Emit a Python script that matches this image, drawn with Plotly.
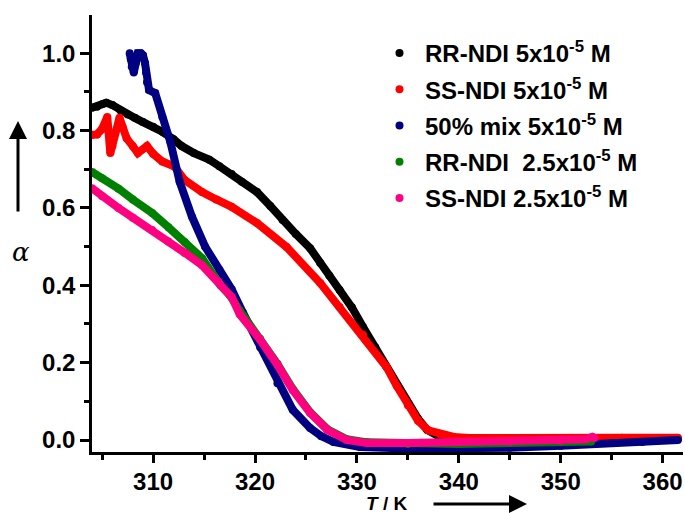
import plotly.graph_objects as go

# ---------------- data ----------------
rr5_T = [304.0, 304.5, 305.0, 305.4, 306.0, 306.8, 307.5, 308.2, 309.0, 310.0, 310.9, 312.0,
         312.8, 314.0, 315.5, 316.5, 317.7, 318.7, 320.2, 321.5, 322.7, 324.0, 325.4, 326.4,
         327.3, 328.3, 329.5, 330.6, 331.8, 332.9, 334.0, 335.0, 336.0, 336.9, 338.0, 339.5,
         341.0, 345.0, 350.0, 355.0, 358.0, 361.5]
rr5_a = [0.859, 0.862, 0.868, 0.872, 0.866, 0.852, 0.842, 0.833, 0.822, 0.810, 0.797, 0.778,
         0.760, 0.742, 0.725, 0.708, 0.688, 0.668, 0.641, 0.605, 0.569, 0.533, 0.496, 0.458,
         0.425, 0.388, 0.343, 0.292, 0.240, 0.189, 0.140, 0.095, 0.055, 0.026, 0.010, 0.002,
         0.000, -0.002, 0.000, 0.001, 0.002, 0.003]

ss5_T = [304.0, 304.5, 305.0, 305.5, 305.8, 306.0, 306.7, 307.0, 307.4, 308.0, 308.5, 309.4,
         310.0, 310.9, 312.1, 313.1, 314.8, 316.2, 317.7, 320.2, 323.1, 326.4, 328.3, 330.6,
         332.9, 333.9, 335.0, 336.0, 337.0, 338.2, 339.5, 341.0, 345.0, 350.0, 353.0, 356.0, 361.5]
ss5_a = [0.789, 0.790, 0.805, 0.835, 0.742, 0.760, 0.833, 0.810, 0.780, 0.760, 0.742, 0.760,
         0.740, 0.720, 0.707, 0.672, 0.641, 0.622, 0.603, 0.561, 0.499, 0.406, 0.344, 0.272,
         0.189, 0.140, 0.090, 0.050, 0.025, 0.015, 0.008, 0.005, 0.004, 0.004, 0.005, 0.006, 0.006]

mix5_T = [307.7, 307.8, 307.9, 308.1, 308.3, 308.5, 308.8, 309.0, 309.2, 309.3, 309.4, 309.6,
          310.2, 310.9, 311.7, 312.6, 313.8, 315.1, 316.5, 317.7, 318.8, 320.5, 322.2, 323.7,
          325.4, 326.5, 327.7, 330.3, 335.0, 340.0, 345.0, 350.0, 355.0, 358.0, 361.5]
mix5_a = [1.000, 0.985, 0.965, 0.950, 0.975, 1.000, 1.000, 0.995, 0.975, 0.950, 0.925, 0.905,
          0.897, 0.835, 0.770, 0.668, 0.578, 0.500, 0.440, 0.390, 0.330, 0.240, 0.147, 0.078,
          0.031, 0.010, -0.005, -0.018, -0.022, -0.022, -0.020, -0.015, -0.008, -0.005, 0.000]

rr25_T = [304.0, 305.0, 306.6, 308.0, 309.9, 311.5, 313.1, 314.8, 316.6, 317.5, 318.5, 320.5,
          322.2, 323.7, 325.4, 327.1, 329.0, 331.0, 335.0, 340.0, 345.0, 350.0, 353.0]
rr25_a = [0.693, 0.677, 0.650, 0.622, 0.587, 0.550, 0.512, 0.470, 0.400, 0.375, 0.335, 0.262,
          0.197, 0.132, 0.072, 0.028, 0.002, -0.006, -0.010, -0.010, -0.008, -0.006, -0.004]

ss25_T = [304.0, 305.0, 306.6, 308.0, 309.9, 311.5, 313.1, 314.8, 316.4, 317.7, 318.5, 320.5,
          322.2, 323.7, 325.4, 327.1, 329.0, 331.0, 335.0, 340.0, 345.0, 350.0, 352.5, 353.1, 353.3]
ss25_a = [0.651, 0.630, 0.600, 0.575, 0.543, 0.513, 0.484, 0.452, 0.410, 0.370, 0.325, 0.259,
          0.194, 0.129, 0.070, 0.026, 0.000, -0.008, -0.008, -0.006, -0.004, -0.002, 0.002, 0.008, 0.005]

names = ["RR-NDI 5x10<sup>-5</sup> M", "SS-NDI 5x10<sup>-5</sup> M", "50% mix 5x10<sup>-5</sup> M",
         "RR-NDI  2.5x10<sup>-5</sup> M", "SS-NDI 2.5x10<sup>-5</sup> M"]
colors = ["#000000", "#ff0000", "#000080", "#008000", "#ff0080"]
series = [(rr5_T, rr5_a), (ss5_T, ss5_a), (mix5_T, mix5_a), (rr25_T, rr25_a), (ss25_T, ss25_a)]

x_ticks = [310, 320, 330, 340, 350, 360]
y_ticks = [0.0, 0.2, 0.4, 0.6, 0.8, 1.0]

# ---------------- figure ----------------
W, H = 685, 513
L, R, T, B = 92, 2, 15, 61
pw, ph = W - L - R, H - T - B

def px(xp):
    return (xp - L) / pw

def py(yp):
    return (H - B - yp) / ph

fig = go.Figure()
for i, ((xs, ys), c) in enumerate(zip(series, colors)):
    fig.add_trace(go.Scatter(x=xs, y=ys, mode="lines+markers",
                             line=dict(color=c, width=8),
                             marker=dict(color=c, size=8),
                             showlegend=False, hoverinfo="skip"))
for i, (n, c) in enumerate(zip(names, colors)):
    fig.add_trace(go.Scatter(x=[None], y=[None], mode="markers", name="<b>" + n + "</b>",
                             marker=dict(color=c, size=8, line=dict(width=0)),
                             legendgroup=str(i)))

axfont = dict(family="Liberation Sans, Arial", size=24, color="black")
fig.update_layout(
    width=W, height=H, margin=dict(l=L, r=R, t=T, b=B),
    plot_bgcolor="white", paper_bgcolor="white",
    showlegend=True,
    legend=dict(x=px(374), y=py(31), xanchor="left", yanchor="top",
                font=dict(family="Liberation Sans, Arial", size=24, color="black"),
                bgcolor="rgba(0,0,0,0)", tracegroupgap=2, itemwidth=41),
    xaxis=dict(range=[304, 362], tickvals=x_ticks, ticktext=["<b>%d</b>" % v for v in x_ticks],
               showgrid=False, zeroline=False, showline=True, linecolor="black", linewidth=2.5,
               ticks="outside", ticklen=8, tickwidth=2.5, tickcolor="black",
               ticklabelstandoff=-2,
               minor=dict(ticks="outside", ticklen=5, tickwidth=2.5, tickcolor="black",
                          tickvals=[305, 315, 325, 335, 345, 355]),
               tickfont=axfont),
    yaxis=dict(range=[-0.031, 1.099], tickvals=y_ticks, ticktext=["<b>%.1f</b>" % v for v in y_ticks],
               showgrid=False, zeroline=False, showline=True, linecolor="black", linewidth=2.5,
               ticks="outside", ticklen=9, tickwidth=2.5, tickcolor="black",
               minor=dict(ticks="outside", ticklen=5, tickwidth=2.5, tickcolor="black",
                          tickvals=[0.1, 0.3, 0.5, 0.7, 0.9]),
               tickfont=axfont),
)

# axis labels with arrows
fig.add_annotation(x=px(21), y=py(252), xref="paper", yref="paper", text="<i>α</i>",
                   xanchor="center", yanchor="middle",
                   showarrow=False, font=dict(family="DejaVu Serif", size=26, color="black"))
fig.add_annotation(x=px(18), y=py(121), xref="paper", yref="paper", text="",
                   showarrow=True, ax=0, ay=92, axref="pixel", ayref="pixel",
                   arrowhead=2, arrowsize=1.2, arrowwidth=3, arrowcolor="black")
fig.add_annotation(x=px(386), y=py(503), xref="paper", yref="paper", text="<b><i>T</i> / K</b>",
                   xanchor="center", yanchor="middle", borderpad=0,
                   showarrow=False, font=dict(family="Liberation Sans, Arial", size=19, color="black"))
fig.add_annotation(x=px(527), y=py(504), xref="paper", yref="paper", text="",
                   showarrow=True, ax=-95, ay=0, axref="pixel", ayref="pixel",
                   arrowhead=2, arrowsize=1.2, arrowwidth=3, arrowcolor="black")

fig.write_html("out.html")
